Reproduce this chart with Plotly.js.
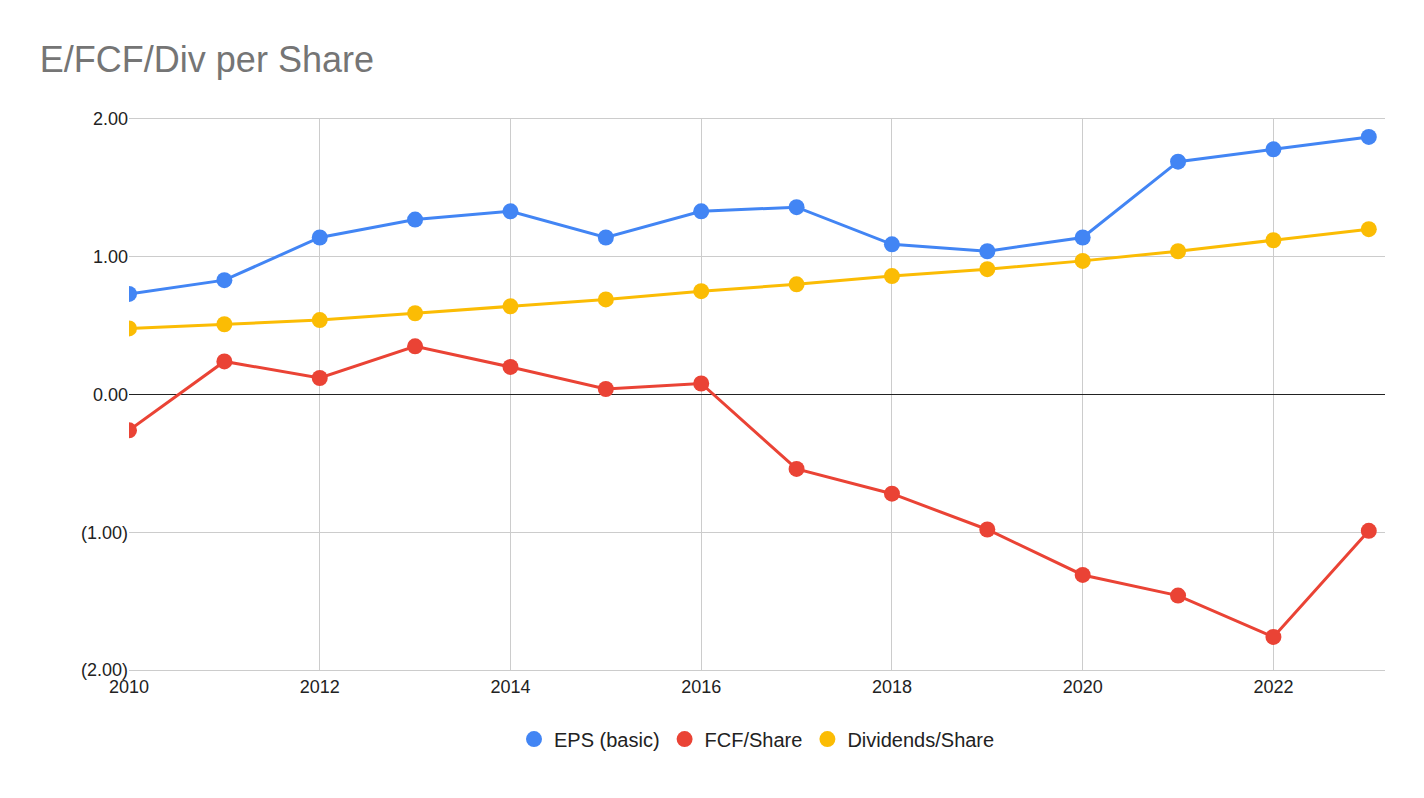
<!DOCTYPE html>
<html>
<head>
<meta charset="utf-8">
<script src="https://cdn.plot.ly/plotly-3.0.1.min.js"></script>
<style>body{margin:0;background:#fff}#chart{width:1424px;height:798px}</style>
</head>
<body>
<div id="chart"></div>
<script>
// Chart data
const years = [2010, 2011, 2012, 2013, 2014, 2015, 2016, 2017, 2018, 2019, 2020, 2021, 2022, 2023];
const eps = [0.73, 0.83, 1.14, 1.27, 1.33, 1.14, 1.33, 1.36, 1.09, 1.04, 1.14, 1.69, 1.78, 1.87];
const fcf = [-0.26, 0.24, 0.12, 0.35, 0.20, 0.04, 0.08, -0.54, -0.72, -0.98, -1.31, -1.46, -1.76, -0.99];
const dividends = [0.48, 0.51, 0.54, 0.59, 0.64, 0.69, 0.75, 0.80, 0.86, 0.91, 0.97, 1.04, 1.12, 1.20];
const yTickVals = [-2, -1, 0, 1, 2];
const yTickText = ['(2.00)', '(1.00)', '0.00', '1.00', '2.00'];
const xTickVals = [2010, 2012, 2014, 2016, 2018, 2020, 2022];

const data = [];
// Lines drawn without legend; legend gets marker-only entries (circle swatches)
function addSeries(name, values, color) {
    data.push({
        x: years, y: values, name: name, type: 'scatter', mode: 'lines+markers',
        line: {color: color, width: 3}, marker: {color: color, size: 16},
        showlegend: false, legendgroup: name
    });
    data.push({
        x: [null], y: [null], name: name, type: 'scatter', mode: 'markers',
        marker: {color: color, size: 22}, legendgroup: name
    });
}
addSeries('EPS (basic)', eps, '#4285f4');
addSeries('FCF/Share', fcf, '#ea4335');
addSeries('Dividends/Share', dividends, '#fbbc04');

const layout = {
    width: 1424, height: 798,
    margin: {l: 129, r: 39, t: 119, b: 128},
    paper_bgcolor: '#fff', plot_bgcolor: '#fff',
    font: {family: 'Arial, "Liberation Sans", sans-serif', size: 18, color: '#222'},
    title: {text: 'E/FCF/Div per Share', x: 0.028, xanchor: 'left', y: 0.925, yanchor: 'middle',
        font: {size: 36, color: '#757575'}},
    xaxis: {range: [2010, 2023.17], tickvals: xTickVals, showgrid: true, gridcolor: '#ccc',
        zeroline: false, showline: true, linecolor: '#ccc', mirror: true, ticks: '', ticklen: 0},
    yaxis: {range: [-2, 2], tickvals: yTickVals, ticktext: yTickText, showgrid: true, gridcolor: '#ccc',
        zeroline: true, zerolinecolor: '#222', zerolinewidth: 1, ticks: '', ticksuffix: '    '},
    showlegend: true,
    legend: {orientation: 'h', x: 0.5, xanchor: 'center', y: -0.09, yanchor: 'top',
        font: {size: 20}, itemsizing: 'trace'}
};

Plotly.newPlot('chart', data, layout, {displayModeBar: false});
</script>
</body>
</html>
